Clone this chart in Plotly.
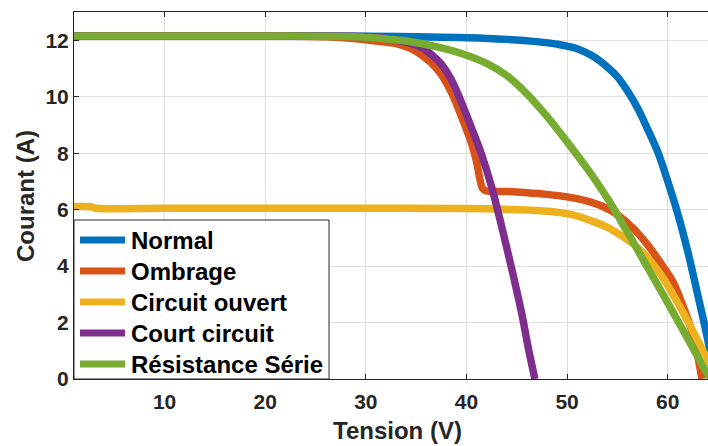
import plotly.graph_objects as go

# I-V characteristics of the PV array under several fault conditions
v_normal = [1, 10, 20, 30, 35, 40, 44, 47, 49, 51, 52.5, 54, 55, 56, 57, 58, 59, 60, 61, 62, 63, 64, 64.7]
i_normal = [12.15, 12.15, 12.15, 12.14, 12.12, 12.09, 12.03, 11.95, 11.86, 11.7, 11.45, 11.05, 10.7, 10.2, 9.6, 8.85, 8.05, 7.0, 5.85, 4.5, 2.95, 1.35, 0.0]

v_ombrage = [1, 20, 26, 29, 31, 33, 34.5, 35.5, 36.5, 37.5, 38.5, 39.5, 40.5, 41.0, 41.35, 41.6, 41.9, 42.5, 44, 46, 48, 50, 52, 53.5, 55, 56.5, 58, 59.5, 60.5, 61.5, 62.3, 62.8, 63.2, 63.4]
i_ombrage = [12.15, 12.15, 12.12, 12.05, 11.97, 11.88, 11.7, 11.48, 11.2, 10.78, 10.15, 9.3, 8.35, 7.7, 7.05, 6.75, 6.67, 6.65, 6.64, 6.6, 6.54, 6.45, 6.3, 6.12, 5.82, 5.36, 4.75, 4.0, 3.45, 2.6, 1.8, 1.1, 0.4, 0.0]

v_co = [1, 2.7, 3.2, 10, 20, 30, 40, 44, 47, 49, 50.5, 52, 53.9, 55.3, 56.6, 57.6, 58.5, 59.5, 60.5, 61.3, 62.2, 63, 63.8, 64.6]
i_co = [6.11, 6.1, 6.05, 6.05, 6.05, 6.05, 6.04, 6.01, 5.97, 5.91, 5.82, 5.65, 5.39, 5.1, 4.78, 4.45, 4.08, 3.6, 3.0, 2.5, 1.9, 1.35, 0.8, 0.3]

v_cc = [1, 20, 30, 32, 34, 35.5, 36.5, 37.5, 38.5, 39.5, 40.5, 41.5, 42.5, 43.5, 44.5, 45.5, 46.2, 46.8]
i_cc = [12.15, 12.15, 12.13, 12.06, 11.93, 11.75, 11.5, 11.15, 10.6, 9.8, 8.9, 7.95, 6.8, 5.4, 3.9, 2.3, 1.0, 0.0]

v_rs = [1, 20, 28, 31, 34, 37, 40, 42, 44, 46, 48, 50, 52, 54, 56, 58, 60, 62, 64, 64.3]
i_rs = [12.15, 12.15, 12.13, 12.08, 11.97, 11.77, 11.47, 11.18, 10.75, 10.1, 9.3, 8.4, 7.45, 6.4, 5.2, 3.95, 2.7, 1.42, 0.15, 0.0]

names = ["Normal", "Ombrage", "Circuit ouvert", "Court circuit", "Résistance Série"]
colors = ["#0072BD", "#D95319", "#EDB120", "#7E2F8E", "#77AC30"]
series = [(v_normal, i_normal), (v_ombrage, i_ombrage), (v_co, i_co), (v_cc, i_cc), (v_rs, i_rs)]

x_ticks = [10, 20, 30, 40, 50, 60]
y_ticks = [0, 2, 4, 6, 8, 10, 12]

FONT = "Liberation Sans, Arial, sans-serif"
AX = "#262626"

# plot-area geometry (pixels) used to place the boxed legend and the titles
W, H = 708, 446
L, R, T, B = 74, 0, 12, 67
PW, PH = W - L - R, H - T - B


def px(xp):
    return (xp - L) / PW


def py(yp):
    return (H - B - yp) / PH


fig = go.Figure()
for name, color, (v, i) in zip(names, colors, series):
    fig.add_trace(go.Scatter(
        x=v, y=i, mode="lines", name=name, showlegend=False,
        line=dict(color=color, width=7.5, shape="spline", smoothing=1.0),
    ))

axis_common = dict(
    showgrid=True, gridcolor="#dfdfdf", gridwidth=1,
    showline=True, linecolor=AX, linewidth=1,
    ticks="inside", ticklen=5, tickwidth=1, tickcolor=AX,
    tickfont=dict(family=FONT, size=21, color=AX, weight="bold"),
    zeroline=False,
)

# boxed legend in the lower-left corner of the axes
shapes = [dict(type="rect", xref="paper", yref="paper", layer="above",
               x0=0, x1=px(329), y0=0, y1=py(220),
               fillcolor="white", line=dict(color=AX, width=1))]
annotations = []
entry_y = [240, 271, 302, 333, 364]
for name, color, yp in zip(names, colors, entry_y):
    shapes.append(dict(type="line", xref="paper", yref="paper", layer="above",
                       x0=px(80), x1=px(125), y0=py(yp), y1=py(yp),
                       line=dict(color=color, width=7)))
    annotations.append(dict(xref="paper", yref="paper", x=px(129), y=py(yp),
                            xanchor="left", yanchor="middle", showarrow=False,
                            text=name, font=dict(family=FONT, size=24, color="black", weight="bold")))

annotations.append(dict(xref="paper", yref="paper", x=px(397), y=py(430),
                        xanchor="center", yanchor="middle", showarrow=False,
                        text="Tension (V)", font=dict(family=FONT, size=24, color=AX, weight="bold")))
annotations.append(dict(xref="paper", yref="paper", x=px(25), y=py(196),
                        xanchor="center", yanchor="middle", showarrow=False, textangle=-90,
                        text="Courant (A)", font=dict(family=FONT, size=24, color=AX, weight="bold")))

fig.update_layout(
    width=W, height=H,
    margin=dict(l=L, r=R, t=T, b=B),
    paper_bgcolor="white", plot_bgcolor="white",
    showlegend=False,
    xaxis=dict(range=[1, 64], tickvals=x_ticks, mirror="ticks", ticklabelstandoff=4, **axis_common),
    yaxis=dict(range=[0, 13], tickvals=y_ticks, mirror=False, **axis_common),
    shapes=shapes,
    annotations=annotations,
)

fig.write_html("out.html")
